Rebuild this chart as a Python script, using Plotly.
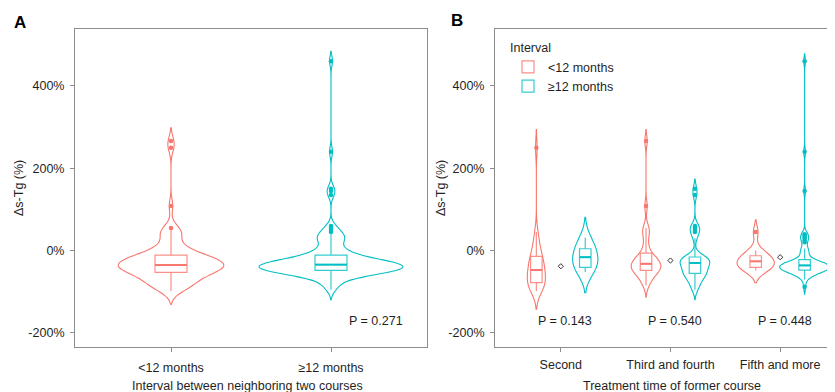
import plotly.graph_objects as go
import numpy as np

# ---------------- data (Δs-Tg, %) ----------------
interval_names = ["<12 months", "≥12 months"]
course_categories = ["Second", "Third and fourth", "Fifth and more"]
y_tickvals = [-200, 0, 200, 400]
y_ticktext = ["-200%", "0%", "200%", "400%"]

second_lt12 = [-98, -94, -90, -86, -83, -80, -77, -72, -67, -62, -57, -52, -47,
               -42, -37, -32, -27, -21, -16, -8, 0, 12, 28, 45, 250]
second_ge12 = [-52, -47, -43, -40, -32, -24, -16, -10, -4, 2, 12, 22, 31]
third_lt12 = [-85, -75, -68, -62, -57, -53, -50, -47, -45, -43, -41, -39, -37, -35,
              -32, -29, -26, -23, -20, -17, -14, -10, 5, 20, 40, 50, 55, 108, 266]
third_ge12 = [-95, -86, -80, -72, -67, -63, -60, -57, -55, -52, -49, -46, -43, -40,
              -37, -34, -30, -28, -26, -24, -22, -21, -20, -18, -16, -14, 30, 45,
              50, 55, 60, 135, 150]
fifth_lt12 = [-48, -45, -42, -40, -35, -30, -26, -22, -18, -14, -8, 0, 45]
fifth_ge12 = [-88, -70, -65, -61, -58, -56, -54, -53, -52, -51, -50, -49, -49, -48,
              -48, -47, -46, -45, -45, -44, -43, -42, -42, -41, -40, -40, -39, -38,
              -38, -37, -36, -35, -34, -34, -33, -32, -32, -31, -30, -30, -29, -28,
              -27, -26, -25, -24, -15, -10, -5, 0, 2, 5, 20, 25, 30, 35, 38, 40,
              145, 240, 460]
center_marks = [-38, -24, -16]
p_values_B = ["P = 0.143", "P = 0.540", "P = 0.448"]
p_value_A = "P = 0.271"

groups_lt12 = [second_lt12, third_lt12, fifth_lt12]
groups_ge12 = [second_ge12, third_ge12, fifth_ge12]
all_lt12 = second_lt12 + third_lt12 + fifth_lt12
all_ge12 = second_ge12 + third_ge12 + fifth_ge12

# ---------------- style ----------------
RED = "#F8766D"
CYAN = "#00BFC4"
RED_BOX = "rgba(248,118,109,0.8)"
CYAN_BOX = "rgba(0,191,196,0.8)"
OFF = 8                      # page body margin offset
W, H = 835 - OFF, 392 - OFF
AXC = "#8c8c8c"
TXT = "#1f1f1f"
FONT = "Liberation Sans, Arial, sans-serif"


def px(x):
    return (x - OFF) / W


def py(y):
    return 1 - (y - OFF) / H


fig = go.Figure()


def add_group(y, pos, xa, ya, color, boxcolor, vwidth, bw, bwidth, legend, name):
    n = len(y)
    fig.add_trace(go.Violin(
        x=[pos] * n, y=y, xaxis=xa, yaxis=ya,
        line=dict(color=color, width=1.1), fillcolor="rgba(255,255,255,0)",
        width=vwidth, bandwidth=bw, spanmode="soft", points=False,
        box_visible=False, meanline_visible=False, scalemode="width",
        showlegend=False, hoverinfo="skip", name=name))
    fig.add_trace(go.Box(
        x=[pos] * n, y=y, xaxis=xa, yaxis=ya, width=bwidth,
        boxpoints="outliers", jitter=0, pointpos=0,
        marker=dict(color=color, size=4.5, line=dict(width=0)),
        line=dict(color=boxcolor, width=1.2), fillcolor="white",
        whiskerwidth=0, showlegend=legend, name=name, legendgroup=name))
    med = float(np.median(y))
    fig.add_trace(go.Scatter(
        x=[pos - bwidth / 2, pos + bwidth / 2], y=[med, med], xaxis=xa, yaxis=ya,
        mode="lines", line=dict(color=color, width=2), showlegend=False,
        hoverinfo="skip"))


# Panel A
add_group(all_lt12, 0, "x", "y", RED, RED_BOX, 0.66, 16, 0.2, False, interval_names[0])
add_group(all_ge12, 1, "x", "y", CYAN, CYAN_BOX, 0.9, 12, 0.2, False, interval_names[1])

# Panel B
dodge = 0.223
lt_w = [0.165, 0.27, 0.34]
ge_w = [0.23, 0.27, 0.455]
lt_bw = [22, 14, 15]
ge_bw = [25, 12, 9]
for i in range(3):
    add_group(groups_lt12[i], i - dodge, "x2", "y2", RED, RED_BOX, lt_w[i], lt_bw[i],
              0.105, i == 0, interval_names[0])
    add_group(groups_ge12[i], i + dodge, "x2", "y2", CYAN, CYAN_BOX, ge_w[i], ge_bw[i],
              0.105, i == 0, interval_names[1])

fig.add_trace(go.Scatter(
    x=list(range(3)), y=center_marks, xaxis="x2", yaxis="y2", mode="markers",
    marker=dict(symbol="diamond-open", size=4, color="#333", line=dict(width=1)),
    showlegend=False, hoverinfo="skip"))

ydom = [py(347), py(29)]
axis_common = dict(showline=True, linecolor=AXC, linewidth=1, ticks="outside",
                   ticklen=4, tickcolor=AXC, showgrid=False, zeroline=False,
                   tickfont=dict(size=12.5, color=TXT, family=FONT))

fig.update_layout(
    width=W, height=H, margin=dict(l=0, r=0, t=0, b=0),
    paper_bgcolor="white", plot_bgcolor="white",
    violinmode="overlay", boxmode="overlay",
    font=dict(family=FONT, color=TXT, size=12),
    xaxis=dict(domain=[px(75), px(427)], range=[-0.6, 1.6], tickvals=[0, 1],
               ticktext=interval_names, mirror=True, anchor="y",
               ticklabelstandoff=5, **axis_common),
    yaxis=dict(domain=ydom, range=[-234, 538], tickvals=y_tickvals,
               ticktext=y_ticktext, mirror=True, anchor="x",
               ticklabelstandoff=3, **axis_common),
    xaxis2=dict(domain=[px(495), 1], range=[-0.6, 2.5], tickvals=[0, 1, 2],
                ticktext=course_categories, mirror=True, anchor="y2",
                ticklabelstandoff=2, **axis_common),
    yaxis2=dict(domain=ydom, range=[-234, 538], tickvals=y_tickvals,
                ticktext=y_ticktext, mirror=False, anchor="x2",
                ticklabelstandoff=3, **axis_common),
    legend=dict(x=px(508), y=py(36), xanchor="left", yanchor="top",
                bgcolor="rgba(255,255,255,0)",
                title=dict(text="Interval", font=dict(size=12.5, color=TXT)),
                font=dict(size=12.5, color=TXT), tracegroupgap=0),
)

ann = []
ann.append(dict(x=1.28, y=-172, xref="x", yref="y", text=p_value_A, showarrow=False,
                xanchor="center", yanchor="middle", font=dict(size=12.5, color=TXT)))
for i, t in enumerate(p_values_B):
    ann.append(dict(x=i + 0.04, y=-172, xref="x2", yref="y2", text=t, showarrow=False,
                    xanchor="center", yanchor="middle",
                    font=dict(size=12.5, color=TXT)))
paper_texts = [
    (20, 22, "<b>A</b>", 0, 17),
    (457, 20, "<b>B</b>", 0, 17),
    (19, 188, "Δs-Tg (%)", -90, 12.5),
    (441, 188, "Δs-Tg (%)", -90, 12.5),
    (247, 386, "Interval between neighboring two courses", 0, 12.5),
    (672, 386, "Treatment time of former course", 0, 12.5),
]
for x, y, t, ang, sz in paper_texts:
    ann.append(dict(x=px(x), y=py(y), xref="paper", yref="paper", text=t,
                    textangle=ang, showarrow=False, xanchor="center",
                    yanchor="middle",
                    font=dict(size=sz, color="black" if sz > 15 else TXT)))
fig.update_layout(annotations=ann)

fig.write_html("out.html")
